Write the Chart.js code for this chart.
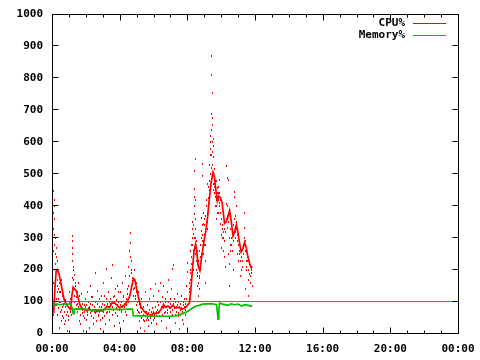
<!DOCTYPE html>
<html><head><meta charset="utf-8">
<script src="https://cdn.jsdelivr.net/npm/chart.js@4/dist/chart.umd.min.js"></script>
<style>html,body{margin:0;padding:0;background:#fff;}</style>
</head><body>
<canvas id="c" width="480" height="360"></canvas>
<script>
// ---- data ----
const xTickHours = [0, 4, 8, 12, 16, 20, 24];
const xTickLabels = ["00:00", "04:00", "08:00", "12:00", "16:00", "20:00", "00:00"];
const yTickValues = [0, 100, 200, 300, 400, 500, 600, 700, 800, 900, 1000];
const seriesNames = ["CPU%", "Memory%"];
const seriesColors = ["#ff0000", "#00c000"];
const thresholdValue = 100;

const cpuAvgTimes = [0.10,0.18,0.25,0.33,0.42,0.53,0.63,0.73,0.85,1.02,1.10,1.18,1.25,1.35,1.45,1.55,1.65,1.75,1.90,2.05,2.20,2.35,2.50,2.65,2.80,2.95,3.10,3.25,3.40,3.55,3.70,3.85,4.00,4.15,4.30,4.45,4.60,4.72,4.82,4.90,5.00,5.10,5.25,5.40,5.55,5.70,5.85,6.00,6.15,6.30,6.45,6.60,6.70,6.85,7.00,7.15,7.30,7.50,7.70,7.85,8.00,8.12,8.20,8.30,8.40,8.49,8.57,8.65,8.74,8.82,8.93,9.02,9.10,9.20,9.30,9.40,9.52,9.60,9.68,9.77,9.85,9.96,10.05,10.12,10.20,10.30,10.40,10.50,10.60,10.70,10.80,10.90,10.98,11.08,11.18,11.28,11.38,11.48,11.58,11.68,11.78,11.83];
const cpuAvgValues = [63,150,197,200,185,157,130,103,90,80,75,120,145,138,132,110,90,80,75,72,78,70,74,68,73,70,76,85,82,96,95,88,80,85,90,100,118,150,172,168,140,115,85,72,64,58,56,64,62,66,76,90,82,86,80,88,80,82,76,80,88,95,130,200,260,280,250,210,197,229,270,300,323,365,420,470,505,490,450,415,430,425,410,380,345,350,365,385,350,305,320,340,320,285,255,265,285,270,240,220,205,210];

const memTimes = [0.05,0.30,0.50,0.70,0.90,1.10,1.20,1.25,1.30,1.50,2.00,2.30,2.50,3.00,3.50,4.00,4.50,4.75,4.80,5.50,6.00,7.00,7.30,7.60,7.90,8.10,8.30,8.50,8.70,8.90,9.20,9.50,9.72,9.78,9.82,9.86,9.90,10.10,10.40,10.60,10.80,11.00,11.20,11.40,11.60,11.83];
const memValues = [93,92,90,93,91,93,78,62,76,77,76,72,74,75,76,75,76,76,56,55,54,54,55,60,66,72,80,86,88,92,93,93,90,65,45,70,95,92,88,93,90,92,86,90,88,85];

const cpuRaw = [
[0.02,200],[0.03,90],[0.05,30],[0.05,120],[0.06,330],[0.07,160],[0.08,260],[0.09,60],[0.10,380],[0.11,448],[0.12,420],[0.13,400],[0.14,360],[0.15,310],[0.16,280],[0.17,130],[0.18,250],[0.19,180],[0.20,220],[0.21,150],[0.22,90],[0.23,300],[0.24,110],[0.25,270],[0.27,200],[0.28,240],[0.29,90],[0.30,170],[0.31,130],[0.32,60],[0.34,230],[0.35,150],[0.36,80],[0.38,190],[0.39,140],[0.40,110],[0.42,20],[0.44,160],[0.45,130],[0.47,100],[0.48,70],[0.50,100],[0.52,130],[0.55,40],[0.57,75],[0.58,170],[0.60,85],[0.62,55],[0.65,120],[0.67,90],[0.68,50],[0.70,95],[0.72,70],[0.75,30],[0.78,85],[0.80,105],[0.82,40],[0.85,60],[0.88,95],[0.90,10],[0.92,70],[0.95,85],[0.97,55],[1.00,45],
[1.02,100],[1.05,130],[1.07,70],[1.10,95],[1.12,110],[1.15,60],[1.17,80],[1.19,270],[1.20,307],[1.21,230],[1.22,290],[1.23,175],[1.24,250],[1.25,200],[1.27,210],[1.28,170],[1.30,140],[1.32,100],[1.33,120],[1.35,185],[1.38,160],[1.40,150],[1.42,90],[1.45,115],[1.48,130],[1.50,70],[1.52,95],[1.55,160],[1.58,85],[1.60,40],[1.62,120],[1.65,95],[1.68,60],[1.70,30],[1.72,80],[1.75,125],[1.78,95],[1.80,65],[1.82,75],[1.85,10],[1.88,55],[1.90,90],[1.92,70],[1.95,50],[1.98,85],[2.00,110],
[2.02,90],[2.05,45],[2.08,70],[2.10,130],[2.12,60],[2.15,80],[2.18,100],[2.20,20],[2.22,85],[2.25,150],[2.28,65],[2.30,95],[2.32,115],[2.35,55],[2.38,75],[2.40,115],[2.42,90],[2.45,30],[2.48,50],[2.50,70],[2.52,85],[2.55,190],[2.58,65],[2.60,100],[2.62,75],[2.65,40],[2.68,95],[2.70,135],[2.72,55],[2.75,60],[2.78,110],[2.80,85],[2.82,70],[2.85,15],[2.88,45],[2.90,120],[2.92,85],[2.95,75],[2.98,95],[3.00,50],[3.02,70],[3.05,160],[3.08,55],[3.10,90],[3.12,120],[3.15,30],[3.18,80],[3.20,110],[3.22,65],[3.25,205],[3.28,95],[3.30,70],[3.32,85],[3.35,130],[3.38,100],[3.40,45],[3.42,70],[3.45,95],[3.48,110],[3.50,175],[3.52,95],[3.55,60],[3.58,85],[3.60,216],[3.62,75],[3.65,115],[3.68,120],[3.70,25],[3.72,100],[3.75,140],[3.78,65],[3.80,80],[3.82,105],[3.85,150],[3.88,90],[3.90,55],[3.92,130],[3.95,100],[3.98,75],[4.00,35],
[4.02,90],[4.05,130],[4.08,75],[4.10,70],[4.12,100],[4.15,160],[4.18,85],[4.20,40],[4.22,120],[4.25,115],[4.28,95],[4.30,85],[4.32,70],[4.35,180],[4.38,110],[4.40,60],[4.42,90],[4.45,140],[4.48,125],[4.50,100],[4.52,150],[4.55,210],[4.57,180],[4.60,260],[4.62,317],[4.64,240],[4.65,285],[4.67,200],[4.68,230],[4.70,190],[4.72,150],[4.75,165],[4.78,175],[4.80,120],[4.82,140],[4.85,200],[4.88,170],[4.90,145],[4.92,120],[4.95,110],[4.98,90],[5.00,160],[5.02,130],[5.05,75],[5.08,100],[5.10,130],[5.12,70],[5.15,40],[5.18,65],[5.20,95],[5.22,80],[5.25,20],[5.28,50],[5.30,110],[5.32,70],[5.35,55],[5.38,45],[5.40,85],[5.42,60],[5.45,10],[5.48,40],[5.50,70],
[5.52,55],[5.55,130],[5.58,70],[5.60,45],[5.62,50],[5.65,90],[5.68,65],[5.70,25],[5.72,45],[5.75,110],[5.78,75],[5.80,60],[5.82,50],[5.85,140],[5.88,70],[5.90,35],[5.92,60],[5.95,80],[5.98,45],[6.00,120],[6.02,70],[6.05,50],[6.08,60],[6.10,155],[6.12,85],[6.15,70],[6.18,55],[6.20,30],[6.22,75],[6.25,100],[6.28,65],[6.30,135],[6.32,90],[6.35,55],[6.38,70],[6.40,160],[6.42,100],[6.45,85],[6.48,80],[6.50,40],[6.52,60],[6.55,115],[6.58,95],[6.60,150],[6.62,80],[6.65,65],[6.68,70],[6.70,100],[6.72,110],[6.75,20],[6.78,85],[6.80,130],[6.82,65],[6.85,75],[6.88,100],[6.90,170],[6.92,80],[6.95,50],[6.98,70],[7.00,95],[7.02,110],[7.05,140],[7.08,85],[7.10,60],[7.12,75],[7.15,205],[7.18,95],[7.20,215],[7.22,80],[7.25,110],[7.28,60],[7.30,35],[7.32,100],[7.35,85],[7.38,70],[7.40,125],[7.42,90],[7.45,55],[7.48,65],[7.50,100],[7.52,85],[7.55,15],[7.58,60],[7.60,75],[7.62,95],[7.65,120],[7.68,80],[7.70,45],[7.72,70],[7.75,90],[7.78,100],[7.80,30],[7.82,85],[7.85,110],[7.88,75],[7.90,60],[7.92,95],[7.95,150],[7.98,110],[8.00,222],[8.02,195],[8.05,95],[8.10,130],
[8.12,140],[8.15,160],[8.16,190],[8.18,110],[8.19,260],[8.20,200],[8.21,170],[8.22,240],[8.24,280],[8.25,180],[8.27,220],[8.28,300],[8.29,330],[8.30,210],[8.32,350],[8.33,280],[8.35,312],[8.36,200],[8.37,260],[8.38,340],[8.40,400],[8.41,300],[8.42,455],[8.43,510],[8.44,376],[8.45,430],[8.46,548],[8.47,360],[8.48,420],[8.49,300],[8.50,330],[8.51,250],[8.52,290],[8.53,200],[8.55,230],[8.56,270],[8.58,150],[8.59,220],[8.60,180],[8.62,190],[8.63,260],[8.64,160],[8.66,215],[8.67,230],[8.68,120],[8.69,200],[8.70,175],[8.71,260],[8.72,140],[8.74,180],[8.75,240],[8.77,210],[8.79,280],[8.80,200],[8.82,250],[8.83,323],[8.84,300],[8.85,363],[8.87,340],[8.88,290],[8.89,260],[8.90,532],[8.91,310],[8.92,495],[8.94,380],[8.95,345],[8.97,290],[8.98,250],[8.99,340],[9.00,310],[9.02,360],[9.03,280],[9.04,300],[9.05,160],[9.06,370],[9.07,320],[9.09,280],[9.10,230],[9.12,350],[9.13,400],[9.15,420],[9.17,350],[9.18,380],[9.20,470],[9.22,330],[9.23,427],[9.25,460],[9.27,390],[9.28,410],[9.30,450],[9.32,480],[9.33,530],[9.35,500],[9.36,580],[9.37,560],[9.38,620],[9.39,600],[9.40,689],[9.41,640],[9.42,870],[9.43,560],[9.44,811],[9.45,520],[9.46,755],[9.47,600],[9.48,676],[9.49,570],[9.50,654],[9.51,530],[9.52,610],[9.53,500],[9.54,589],[9.55,470],[9.56,553],[9.57,450],[9.58,516],[9.59,490],[9.60,460],[9.62,470],[9.63,440],[9.65,430],[9.66,400],[9.68,480],[9.70,360],[9.71,420],[9.73,480],[9.74,400],[9.76,440],[9.78,380],[9.80,458],[9.82,440],[9.84,420],[9.86,460],[9.87,380],[9.89,410],[9.90,483],[9.92,440],[9.93,400],[9.95,380],[9.96,345],[9.98,420],[10.00,310],[10.02,360],[10.03,270],[10.05,390],[10.07,330],[10.09,340],[10.10,300],[10.12,320],[10.13,260],[10.15,300],[10.17,240],[10.19,330],[10.20,290],[10.22,350],[10.25,210],[10.27,320],[10.30,408],[10.32,360],[10.33,527],[10.35,489],[10.37,400],[10.38,370],[10.40,333],[10.42,380],[10.43,483],[10.45,350],[10.46,250],[10.48,300],[10.50,220],[10.52,150],[10.53,330],[10.55,280],[10.58,260],[10.60,300],[10.62,280],[10.64,350],[10.66,320],[10.68,260],[10.70,290],[10.72,200],[10.74,340],[10.76,443],[10.78,360],[10.80,430],[10.82,320],[10.84,370],[10.86,300],[10.88,400],[10.90,350],[10.92,330],[10.94,290],[10.96,250],[10.98,310],[11.00,230],[11.02,280],[11.05,300],[11.07,250],[11.10,260],[11.12,230],[11.15,180],[11.17,270],[11.20,240],[11.22,200],[11.25,210],[11.27,230],[11.30,250],[11.32,280],[11.35,380],[11.37,300],[11.40,333],[11.42,260],[11.43,290],[11.45,140],[11.47,200],[11.48,230],[11.50,260],[11.52,210],[11.55,230],[11.57,250],[11.60,170],[11.62,120],[11.63,200],[11.65,188],[11.67,220],[11.70,230],[11.72,180],[11.75,160],[11.77,200],[11.80,210],[11.82,190],[11.83,150]
];

// ---- styles ----
const FONT = {family: '"DejaVu Sans Mono", monospace', size: 11, weight: 'bold'};
const BLUE = 'rgb(40,120,215)';

// crisp 1x2 px dots at the positions the library computed for the raw dataset
const dotPlugin = {
  id: 'dots',
  beforeDatasetsDraw(chart) {
    const {ctx, chartArea: a} = chart;
    chart.data.datasets.forEach((d, i) => {
      if (!d.dots) return;
      const meta = chart.getDatasetMeta(i);
      ctx.save();
      ctx.fillStyle = d.dotColor;
      meta.data.forEach(el => {
        const px = Math.floor(el.x), py = Math.floor(el.y);
        if (px >= a.left && px <= a.right && py >= a.top && py < a.bottom) ctx.fillRect(px, py, 1, 2);
      });
      ctx.restore();
    });
  }
};

const framePlugin = {
  id: 'frame',
  afterDraw(chart) {
    const {ctx, chartArea: a, scales: {x, y}} = chart;
    const L = Math.round(a.left) + 0.5, R = Math.round(a.right) + 0.5;
    const T = Math.round(a.top) + 0.5, B = Math.floor(a.bottom) + 0.5;
    ctx.save();
    ctx.strokeStyle = '#000';
    ctx.lineWidth = 1;
    ctx.beginPath();
    yTickValues.forEach(v => {
      const py = Math.floor(y.getPixelForValue(v)) + 0.5;
      ctx.moveTo(L, py); ctx.lineTo(L + 6, py);
      ctx.moveTo(R, py); ctx.lineTo(R - 6, py);
    });
    for (let h = 0; h <= 24; h++) {
      const px = Math.round(x.getPixelForValue(h)) + 0.5;
      const len = (h % 4 === 0) ? 6 : 3;
      ctx.moveTo(px, B); ctx.lineTo(px, B - len);
      ctx.moveTo(px, T); ctx.lineTo(px, T + len);
    }
    ctx.moveTo(L, T); ctx.lineTo(R, T); ctx.lineTo(R, B); ctx.lineTo(L, B); ctx.closePath();
    ctx.stroke();

    // legend: text then line sample (gnuplot style)
    ctx.font = 'bold 11px "DejaVu Sans Mono", monospace';
    ctx.textAlign = 'right';
    ctx.textBaseline = 'middle';
    seriesNames.forEach((name, i) => {
      const ly = 23 + i * 12;
      ctx.fillStyle = '#000';
      ctx.fillText(name, 405, ly);
      ctx.fillStyle = seriesColors[i];
      ctx.fillRect(413, ly, 33, 1);
    });
    ctx.restore();
  }
};

const toXY = (ts, vs) => ts.map((t, i) => ({x: t, y: vs[i]}));

new Chart(document.getElementById('c'), {
  type: 'line',
  data: {
    datasets: [
      {label: seriesNames[0], data: toXY(cpuAvgTimes, cpuAvgValues), borderColor: seriesColors[0], borderWidth: 1.7, pointRadius: 0, tension: 0, order: 1},
      {label: seriesNames[1], data: toXY(memTimes, memValues), borderColor: seriesColors[1], borderWidth: 1.7, pointRadius: 0, tension: 0, order: 0},
      {label: 'threshold', data: [{x: 0, y: thresholdValue}, {x: 24, y: thresholdValue}], borderColor: BLUE, borderWidth: 1, pointRadius: 0, order: 2},
      {label: 'cpu raw', dots: true, dotColor: seriesColors[0], data: cpuRaw.map(p => ({x: p[0], y: p[1]})), showLine: false, pointRadius: 0, order: 3}
    ]
  },
  options: {
    responsive: false,
    animation: false,
    devicePixelRatio: 1,
    events: [],
    layout: {padding: {left: 0, right: 22, top: 14, bottom: 0}},
    plugins: {legend: {display: false}, tooltip: {enabled: false}},
    scales: {
      x: {
        type: 'linear', min: 0, max: 24,
        grid: {display: false}, border: {display: false},
        afterBuildTicks: s => { s.ticks = xTickHours.map(v => ({value: v})); },
        afterFit: s => { s.height = 26.5; },
        ticks: {font: FONT, color: '#000', padding: 1, maxRotation: 0, autoSkip: false,
          callback: (v, i) => xTickLabels[i]}
      },
      y: {
        min: 0, max: 1000,
        grid: {display: false}, border: {display: false},
        afterBuildTicks: s => { s.ticks = yTickValues.map(v => ({value: v})); },
        afterFit: s => { s.width = 52; },
        ticks: {font: FONT, color: '#000', padding: 1, autoSkip: false,
          callback: v => String(v)}
      }
    }
  },
  plugins: [dotPlugin, framePlugin]
});
</script>
</body></html>
